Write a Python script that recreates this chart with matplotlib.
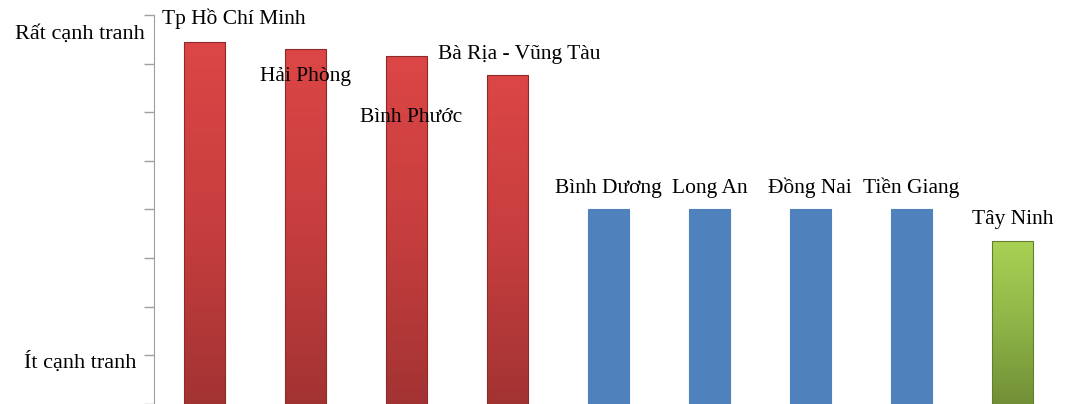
import numpy as np
import matplotlib.pyplot as plt
from matplotlib.colors import LinearSegmentedColormap

# Dữ liệu
provinces = ['Tp Hồ Chí Minh', 'Hải Phòng', 'Bình Phước', 'Bà Rịa - Vũng Tàu',
             'Bình Dương', 'Long An', 'Đồng Nai', 'Tiền Giang', 'Tây Ninh']
levels = [7.45, 7.30, 7.16, 6.77, 4.0, 4.0, 4.0, 4.0, 3.35]
groups = ['red', 'red', 'red', 'red', 'blue', 'blue', 'blue', 'blue', 'green']

# vị trí nhãn tên tỉnh (độ lệch x so với cột, mức y)
label_dx = [0.29, 0.0, 0.05, 0.12, 0.0, 0.0, 0.0, 0.0, 0.0]
label_y = [7.92, 6.73, 5.90, 7.18, 4.44, 4.44, 4.44, 4.44, 3.79]

y_labels = ['Ít cạnh tranh', 'Rất cạnh tranh']
y_label_pos = [0.86, 7.6]
y_label_x = [-0.019, -0.01]

plt.rcParams['font.family'] = ['Liberation Serif', 'DejaVu Serif']

fig = plt.figure(figsize=(10.66, 4.04), dpi=100)
ax = fig.add_axes([0.1445, 0.0, 0.8525, 0.963])

x = np.arange(len(provinces))
width = 0.41

gradients = {
    'red': LinearSegmentedColormap.from_list('r', ['#a33333', '#c73e3e', '#dc4646']),
    'green': LinearSegmentedColormap.from_list('g', ['#718f36', '#8fb548', '#a9d154']),
}
edge = {'red': '#8e2a2a', 'green': '#637f2e', 'blue': '#4f81bd'}

bars = ax.bar(x, levels, width=width, color='#4f81bd', zorder=2)
grad = np.linspace(0, 1, 256).reshape(-1, 1)
for b, g in zip(bars, groups):
    b.set_edgecolor(edge[g])
    b.set_linewidth(0.8)
    if g in gradients:
        b.set_facecolor('none')
        im = ax.imshow(grad, cmap=gradients[g], origin='lower', aspect='auto',
                       extent=[b.get_x(), b.get_x() + b.get_width(), 0, b.get_height()],
                       zorder=1.5)
        im.set_clip_path(b)

for i, name in enumerate(provinces):
    ax.text(x[i] + label_dx[i], label_y[i], name, ha='center', va='center',
            fontsize=15.5, color='black', zorder=3)

for txt, yv, xv in zip(y_labels, y_label_pos, y_label_x):
    ax.text(xv, yv, txt, transform=ax.get_yaxis_transform(),
            ha='right', va='center', fontsize=16)

ax.set_xlim(-0.5, len(provinces) - 0.5)
ax.set_ylim(0, 8)
ax.set_yticks(np.arange(0, 9))
ax.set_yticklabels([])
ax.set_xticks([])
ax.tick_params(axis='y', direction='out', length=7, color='#a0a0a0', width=1)
for s in ['top', 'right', 'bottom']:
    ax.spines[s].set_visible(False)
ax.spines['left'].set_color('#a0a0a0')

fig.savefig('out.png', dpi=100)
